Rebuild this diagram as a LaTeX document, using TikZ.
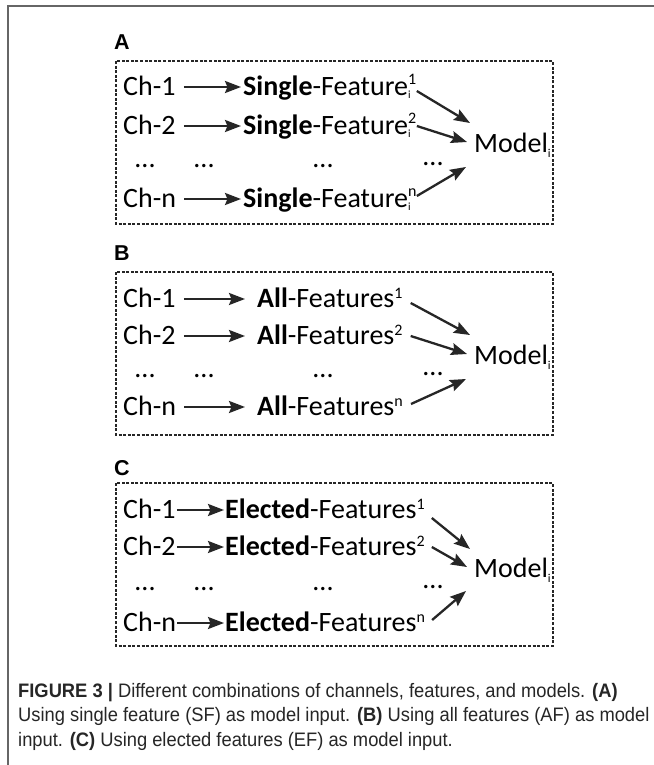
\documentclass[tikz,border=0pt]{standalone}
\usepackage{fontspec}
\setmainfont{Carlito}
\newfontfamily\capfont[FakeStretch=0.94]{Liberation Sans}
\newfontfamily\lblfont{Liberation Sans}
\usetikzlibrary{arrows.meta,calc}

% stacked superscript / subscript after a feature name
\newcommand\supsub[2]{\rlap{\raisebox{11bp}{\fontsize{16bp}{16bp}\selectfont #1}}{\raisebox{-3.5bp}{\fontsize{11bp}{11bp}\selectfont #2}}}
\newcommand\supon[1]{\raisebox{9bp}{\fontsize{16bp}{16bp}\selectfont #1}}
\newcommand\subi{\raisebox{-5bp}{\fontsize{12bp}{12bp}\selectfont i}}

\tikzset{
  txt/.style={inner sep=0pt, anchor=base west, font=\fontsize{28bp}{32bp}\selectfont},
  dotsnode/.style={inner sep=0pt, anchor=base, font=\fontsize{28bp}{32bp}\selectfont},
  lbl/.style={inner sep=0pt, anchor=base west, font=\lblfont\bfseries\fontsize{21.5bp}{24bp}\selectfont},
  panelbox/.style={draw=black!85, line width=1.3bp, dash pattern=on 3bp off 1.6bp},
  arr/.style={draw=black!85, line width=2.3bp, -{Stealth[length=16bp,width=12bp,inset=2.5bp]}},
  capline/.style={inner sep=0pt, anchor=base west, text=black!85, font=\capfont\fontsize{19.5bp}{23bp}\selectfont},
  frame/.style={draw=black!60, line width=1.5bp}
}

\begin{document}
\begin{tikzpicture}[x=1bp, y=-1bp]
\useasboundingbox (0,0) rectangle (654,765);
\fill[white] (0,0) rectangle (654,765);

% page frame (left and top rules)
\draw[frame] (8,765) -- (8,6) -- (654,6);

% ---------- panel A ----------
\begin{scope}[shift={(0,61)}]
  \node[lbl] (a-lbl) at (114,-11) {A};
  \draw[panelbox] (116,0) rectangle (553,163);
  \node[txt] (a-c1) at (123,34) {Ch-1};
  \node[txt] (a-c2) at (123,73) {Ch-2};
  \node[txt] (a-cn) at (123,146) {Ch-n};
  \node[txt] (a-f1) at (243,34) {\textbf{Single}-Feature\supsub{1}{i}};
  \node[txt] (a-f2) at (243,73) {\textbf{Single}-Feature\supsub{2}{i}};
  \node[txt] (a-fn) at (243,146) {\textbf{Single}-Feature\supsub{n}{i}};
  \node[dotsnode] (a-d1) at (145,106) {...};
  \node[dotsnode] (a-d2) at (204,106) {...};
  \node[dotsnode] (a-d3) at (323,106) {...};
  \node[dotsnode] (a-d4) at (433,104) {...};
  \node[txt] (a-m) at (474,91) {Model\subi};
  \foreach \r in {1,2,n}{
    \draw[arr] ($(a-c\r.base east)+(8,-8)$) -- ($(a-f\r.base west)+(-2,-8)$);
  }
  \draw[arr] ($(a-f1.base east)+(6,-4)$) -- ($(a-m.base west)+(-4,-29)$);
  \draw[arr] ($(a-f2.base east)+(6,-8)$) -- ($(a-m.base west)+(-7,-10)$);
  \draw[arr] ($(a-fn.base east)+(6,-11)$) -- ($(a-m.base west)+(-8,15)$);
\end{scope}

% ---------- panel B ----------
\begin{scope}[shift={(0,272)}]
  \node[lbl] (b-lbl) at (114,-12) {B};
  \draw[panelbox] (116,0) rectangle (553,163);
  \node[txt] (b-c1) at (123,35) {Ch-1};
  \node[txt] (b-c2) at (123,72) {Ch-2};
  \node[txt] (b-cn) at (123,143) {Ch-n};
  \node[txt] (b-f1) at (257,35) {\textbf{All}-Features\supon{1}};
  \node[txt] (b-f2) at (257,72) {\textbf{All}-Features\supon{2}};
  \node[txt] (b-fn) at (257,143) {\textbf{All}-Features\supon{n}};
  \node[dotsnode] (b-d1) at (145,105) {...};
  \node[dotsnode] (b-d2) at (204,105) {...};
  \node[dotsnode] (b-d3) at (323,105) {...};
  \node[dotsnode] (b-d4) at (433,103) {...};
  \node[txt] (b-m) at (474,92) {Model\subi};
  \foreach \r in {1,2,n}{
    \draw[arr] ($(b-c\r.base east)+(8,-8)$) -- ($(b-f\r.base west)+(-12,-8)$);
  }
  \draw[arr] ($(b-f1.base east)+(8,-4)$) -- ($(b-m.base west)+(-4,-29)$);
  \draw[arr] ($(b-f2.base east)+(8,-8)$) -- ($(b-m.base west)+(-7,-10)$);
  \draw[arr] ($(b-fn.base east)+(8,-11)$) -- ($(b-m.base west)+(-8,15)$);
\end{scope}

% ---------- panel C ----------
\begin{scope}[shift={(0,483)}]
  \node[lbl] (c-lbl) at (114,-8) {C};
  \draw[panelbox] (116,0) rectangle (553,163);
  \node[txt] (c-c1) at (123,35) {Ch-1};
  \node[txt] (c-c2) at (123,72) {Ch-2};
  \node[txt] (c-cn) at (123,148) {Ch-n};
  \node[txt] (c-f1) at (225,35) {\textbf{Elected}-Features\supon{1}};
  \node[txt] (c-f2) at (225,72) {\textbf{Elected}-Features\supon{2}};
  \node[txt] (c-fn) at (225,148) {\textbf{Elected}-Features\supon{n}};
  \node[dotsnode] (c-d1) at (145,107) {...};
  \node[dotsnode] (c-d2) at (204,107) {...};
  \node[dotsnode] (c-d3) at (323,107) {...};
  \node[dotsnode] (c-d4) at (433,105) {...};
  \node[txt] (c-m) at (474,94) {Model\subi};
  \foreach \r in {1,2,n}{
    \draw[arr] ($(c-c\r.base east)+(1,-8)$) -- ($(c-f\r.base west)+(-1,-8)$);
  }
  \draw[arr] ($(c-f1.base east)+(7,0)$) -- ($(c-m.base west)+(-4,-28)$);
  \draw[arr] ($(c-f2.base east)+(7,-8)$) -- ($(c-m.base west)+(-7,-10)$);
  \draw[arr] ($(c-fn.base east)+(7,-11)$) -- ($(c-m.base west)+(-8,14)$);
\end{scope}

% ---------- caption ----------
\node[capline] (cap1) at (18,697) {\textbf{FIGURE 3 |} Different combinations of channels, features, and models. \textbf{(A)}};
\node[capline] (cap2) at (18,721.5) {Using single feature (SF) as model input. \textbf{(B)} Using all features (AF) as model};
\node[capline] (cap3) at (18,746) {input. \textbf{(C)} Using elected features (EF) as model input.};
\end{tikzpicture}
\end{document}
